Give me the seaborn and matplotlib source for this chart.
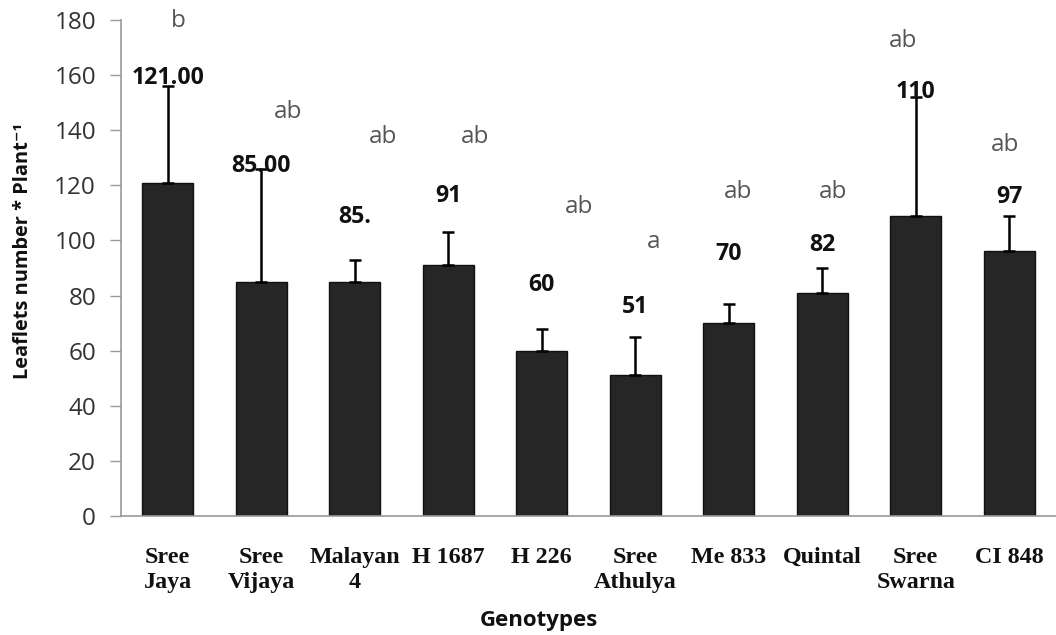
import matplotlib
matplotlib.use("Agg")
import matplotlib.pyplot as plt
import seaborn as sns
import numpy as np
import pandas as pd

# ---- data ----
genotypes = ["Sree\nJaya", "Sree\nVijaya", "Malayan\n4", "H 1687", "H 226",
             "Sree\nAthulya", "Me 833", "Quintal", "Sree\nSwarna", "CI 848"]
leaflets = [121, 85, 85, 91, 60, 51, 70, 81, 109, 96]
errors = [35, 41, 8, 12, 8, 14, 7, 9, 43, 13]
value_labels = ["121.00", "85.00", "85.", "91", "60", "51", "70", "82", "110", "97"]
value_label_y = [159, 127, 108.5, 116, 84, 76, 95, 98.5, 154, 115.7]
letters = ["b", "ab", "ab", "ab", "ab", "a", "ab", "ab", "ab", "ab"]
letter_y = [179.5, 146.6, 137.5, 137.5, 112, 99.4, 117.6, 117.6, 172.4, 134.6]
letter_dx = [0.11, 0.29, 0.30, 0.29, 0.40, 0.20, 0.10, 0.12, -0.14, -0.05]
yticks = [0, 20, 40, 60, 80, 100, 120, 140, 160, 180]

df = pd.DataFrame({"Genotype": genotypes, "Leaflets": leaflets})

sns.set_style("white")
plt.rcParams["font.family"] = ["Open Sans", "DejaVu Sans"]

fig = plt.figure(figsize=(10.56, 6.35), dpi=100)
ax = fig.add_axes([121 / 1056, 1 - 516 / 635, 1 - 121 / 1056, (516 - 20) / 635])

sns.barplot(data=df, x="Genotype", y="Leaflets", ax=ax, color="#262626",
            edgecolor="#111111", linewidth=1.0, width=0.545, saturation=1)

xpos = np.arange(len(genotypes))
ax.errorbar(xpos, leaflets, yerr=[np.zeros(len(errors)), errors], fmt="none",
            ecolor="black", elinewidth=1.8, capsize=4.5, capthick=1.8)

for i in range(len(genotypes)):
    ax.text(xpos[i], value_label_y[i], value_labels[i], ha="center", va="center",
            fontsize=16.7, fontweight="bold", color="#111111")
    ax.text(xpos[i] + letter_dx[i], letter_y[i], letters[i], ha="center", va="center",
            fontsize=17.5, color="#555555")

ax.set_xlim(-0.5, 9.5)
ax.set_ylim(0, 180)
ax.set_yticks(yticks)
ax.set_yticklabels([str(t) for t in yticks], fontsize=17.5, color="#333333")

ax.set_xticks(xpos)
ax.set_xticklabels(genotypes, fontsize=17.3, fontweight="bold",
                   family=["Liberation Serif", "DejaVu Serif"], color="#111111",
                   linespacing=1.3)
ax.set_xticks(np.arange(-0.5, 9.6, 1.0), minor=True)
ax.tick_params(axis="x", which="major", length=0, pad=22)
ax.tick_params(axis="x", which="minor", length=7, width=1, color="#999999", direction="out")
ax.tick_params(axis="y", which="major", length=8, width=1, color="#999999",
               direction="out", pad=10, left=True)

for s in ["top", "right"]:
    ax.spines[s].set_visible(False)
for s in ["left", "bottom"]:
    ax.spines[s].set_color("#999999")
    ax.spines[s].set_linewidth(1.2)

ax.set_xlabel("Genotypes", fontsize=16, fontweight="bold", color="#111111")
ax.xaxis.set_label_coords(0.447, -0.19)
ax.set_ylabel("Leaflets number * Plant\u207b\u00b9", fontsize=14.4, fontweight="bold",
              color="#111111")
ax.yaxis.set_label_coords(-0.094, 0.535)

fig.savefig("out.png", dpi=100)
